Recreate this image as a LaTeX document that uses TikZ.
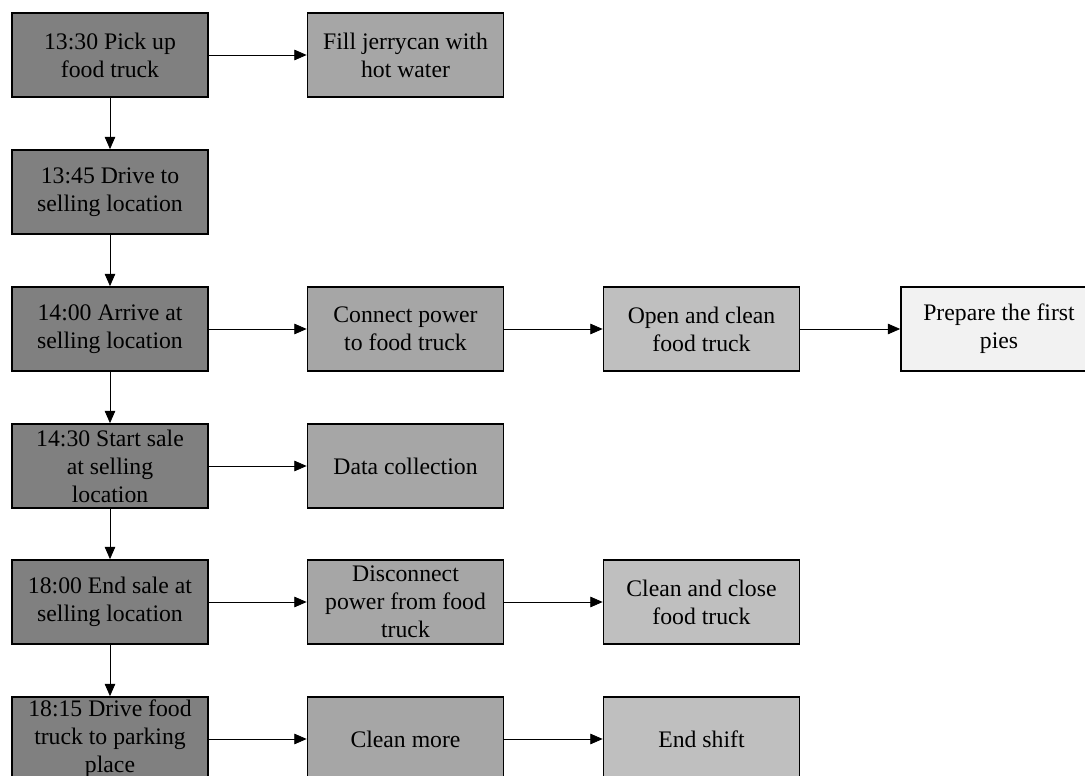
\documentclass[tikz,border=0pt]{standalone}
\usepackage{fontspec}
\setmainfont{Liberation Serif}
\usepackage{xcolor}
\usetikzlibrary{arrows.meta}
\definecolor{shiftDark}{RGB}{128, 128, 128}
\definecolor{shiftMid}{RGB}{166, 166, 166}
\definecolor{shiftLight}{RGB}{191, 191, 191}
\definecolor{shiftPale}{RGB}{242, 242, 242}

\begin{document}
\begin{tikzpicture}[x=0.02cm, y=-0.02cm,
    task/.style={draw, line width=1pt, minimum width=3.92cm, minimum height=1.68cm,
        inner sep=0pt, align=center, font=\fontsize{13.5}{16}\selectfont},
    flow/.style={-{Triangle[length=7pt, width=6pt]}, line width=0.45pt}]
\useasboundingbox (0,0) rectangle (1085,776);

% Main timeline
\node[task, fill=shiftDark] (pickup) at (110,55) {13:30 Pick up\\food truck};
\node[task, fill=shiftDark] (drive) at (110,192) {13:45 Drive to\\selling location};
\node[task, fill=shiftDark] (arrive) at (110,329) {14:00 Arrive at\\selling location};
\node[task, fill=shiftDark] (startsale) at (110,466) {14:30 Start sale\\at selling\\location};
\node[task, fill=shiftDark] (endsale) at (110,602) {18:00 End sale at\\selling location};
\node[task, fill=shiftDark] (parking) at (110,739) {18:15 Drive food\\truck to parking\\place};

% Side tasks
\node[task, fill=shiftMid] (jerrycan) at (405.5,55) {Fill jerrycan with\\hot water};
\node[task, fill=shiftMid] (power) at (405.5,329) {Connect power\\to food truck};
\node[task, fill=shiftLight] (openclean) at (701.5,329) {Open and clean\\food truck};
\node[task, fill=shiftPale] (pies) at (999,329) {Prepare the first\\pies};
\node[task, fill=shiftMid] (data) at (405.5,466) {Data collection};
\node[task, fill=shiftMid] (disconnect) at (405.5,602) {Disconnect\\power from food\\truck};
\node[task, fill=shiftLight] (closetruck) at (701.5,602) {Clean and close\\food truck};
\node[task, fill=shiftMid] (cleanmore) at (405.5,739) {Clean more};
\node[task, fill=shiftLight] (endshift) at (701.5,739) {End shift};

% Connectors
\foreach \from/\to in {pickup/drive, drive/arrive, arrive/startsale, startsale/endsale, endsale/parking}
    \draw[flow] (\from.south) -- (\to.north);
\foreach \from/\to in {pickup/jerrycan, arrive/power, power/openclean, openclean/pies,
    startsale/data, endsale/disconnect, disconnect/closetruck, parking/cleanmore, cleanmore/endshift}
    \draw[flow] (\from.east) -- (\to.west);
\end{tikzpicture}
\end{document}
